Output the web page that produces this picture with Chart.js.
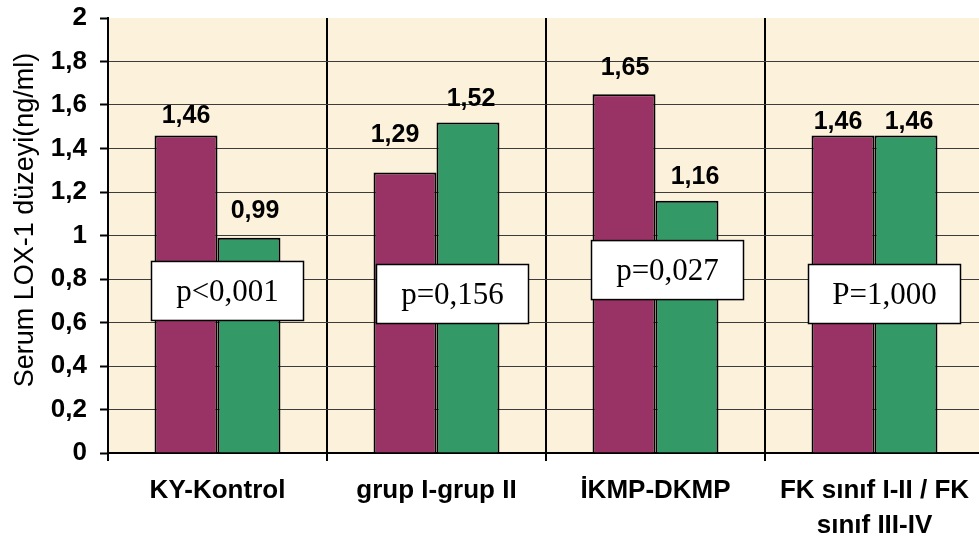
<!DOCTYPE html>
<html>
<head>
<meta charset="utf-8">
<script src="https://cdn.jsdelivr.net/npm/chart.js@4.4.1/dist/chart.umd.min.js"></script>
<style>
  html, body { margin: 0; padding: 0; background: #ffffff; overflow: hidden; }
  #wrap { width: 979px; height: 541px; overflow: hidden; position: relative; }
</style>
</head>
<body>
<div id="wrap"><canvas id="c" width="990" height="541"></canvas></div>
<script>
// Category names along the bottom
const categories = ['KY-Kontrol', 'grup I-grup II', 'İKMP-DKMP', ['FK sınıf I-II / FK', 'sınıf III-IV']];
// First group of each pair (purple) and second group (green), ng/ml
const seriesA = [1.46, 1.29, 1.65, 1.46];
const seriesB = [0.99, 1.52, 1.16, 1.46];
// Significance text shown in each category
const pValues = ['p<0,001', 'p=0,156', 'p=0,027', 'P=1,000'];
// Value axis
const yMin = 0;
const yMax = 2;
const yStep = 0.2;
const yTitle = 'Serum LOX-1 düzeyi(ng/ml)';

const SANS = '"Liberation Sans", Arial, Helvetica, sans-serif';
const SERIF = '"Liberation Serif", "Times New Roman", Times, serif';
const fmt = v => String(Math.round(v * 100) / 100).replace('.', ',');
const fmt2 = v => v.toFixed(2).replace('.', ',');

// Label nudges [dx, gap above bar top] per series and category
const labelNudge = [
  [[0, 12], [-10, 30], [1, 19], [-5, 6]],
  [[6, 20], [3, 16], [8, 17], [3, 6]]
];
// p-value boxes: horizontal shift from category centre (px) and vertical centre (axis units)
const boxPlace = [[10, 0.745], [16, 0.731], [12, 0.841], [10, 0.731]];

const plotBackground = {
  id: 'plotBackground',
  beforeDraw(chart) {
    const { ctx, chartArea: a } = chart;
    ctx.save();
    ctx.fillStyle = '#fcf2dc';
    ctx.fillRect(a.left, a.top, a.right - a.left, a.bottom - a.top);
    ctx.restore();
  }
};

const annotations = {
  id: 'annotations',
  afterDraw(chart) {
    const { ctx } = chart;
    const x = chart.scales.x, y = chart.scales.y;
    ctx.save();

    // value labels above bars
    ctx.font = 'bold 25px ' + SANS;
    ctx.fillStyle = '#000';
    ctx.textAlign = 'center';
    ctx.textBaseline = 'alphabetic';
    [seriesA, seriesB].forEach((s, di) => {
      const meta = chart.getDatasetMeta(di);
      s.forEach((v, i) => {
        const bar = meta.data[i];
        const [dx, gap] = labelNudge[di][i];
        ctx.fillText(fmt2(v), bar.x + dx, bar.y - gap);
      });
    });

    // p-value boxes
    const bw = 152, bh = 59;
    ctx.font = '31px ' + SERIF;
    pValues.forEach((t, i) => {
      const [dx, yv] = boxPlace[i];
      const cx = x.getPixelForValue(i) + dx;
      const cy = y.getPixelForValue(yv);
      ctx.fillStyle = '#ffffff';
      ctx.fillRect(cx - bw / 2, cy - bh / 2, bw, bh);
      ctx.lineWidth = 1.5;
      ctx.strokeStyle = '#000';
      ctx.strokeRect(cx - bw / 2, cy - bh / 2, bw, bh);
      ctx.fillStyle = '#000';
      ctx.textBaseline = 'middle';
      ctx.fillText(t, cx, cy + 2);
    });

    // value axis title
    ctx.translate(33, 220);
    ctx.rotate(-Math.PI / 2);
    ctx.font = '27px ' + SANS;
    ctx.textAlign = 'center';
    ctx.textBaseline = 'alphabetic';
    ctx.fillText(yTitle, 0, 0);
    ctx.restore();
  }
};

new Chart(document.getElementById('c'), {
  type: 'bar',
  data: {
    labels: categories,
    datasets: [
      { data: seriesA, backgroundColor: '#993366', borderColor: '#000', borderWidth: 2 },
      { data: seriesB, backgroundColor: '#339966', borderColor: '#000', borderWidth: 2 }
    ]
  },
  options: {
    responsive: false,
    animation: false,
    devicePixelRatio: 1,
    layout: { padding: { top: 18, right: 6, left: 0, bottom: 0 } },
    datasets: { bar: { barPercentage: 1, categoryPercentage: 0.575 } },
    plugins: { legend: { display: false }, tooltip: { enabled: false } },
    scales: {
      x: {
        z: 1,
        grid: {
          offset: true,
          color: '#000',
          lineWidth: 2,
          drawTicks: true,
          tickLength: 8,
          tickColor: '#000',
          tickWidth: 2
        },
        border: { color: '#000', width: 2 },
        ticks: {
          color: '#000',
          padding: 12,
          maxRotation: 0,
          autoSkip: false,
          font: { family: SANS, size: 26, weight: 'bold', lineHeight: 1.35 }
        },
        afterFit(scale) {
          scale.height = 88;
          scale.paddingLeft = 0;
          scale.paddingRight = 0;
        }
      },
      y: {
        min: yMin,
        max: yMax,
        grid: {
          color: ctx => (ctx.tick && Math.abs(ctx.tick.value - yMax) < 1e-6) ? 'rgba(0,0,0,0)' : '#3c3c3c',
          lineWidth: 1,
          tickLength: 8,
          tickColor: '#000',
          tickWidth: 2
        },
        border: { color: '#000', width: 2 },
        ticks: {
          stepSize: yStep,
          color: '#000',
          padding: 13,
          font: { family: SANS, size: 26, weight: 'bold' },
          callback: v => fmt(v)
        },
        afterFit(scale) {
          scale.width = 108;
          scale.paddingTop = 0;
          scale.paddingBottom = 0;
        }
      }
    }
  },
  plugins: [plotBackground, annotations]
});
</script>
</body>
</html>
